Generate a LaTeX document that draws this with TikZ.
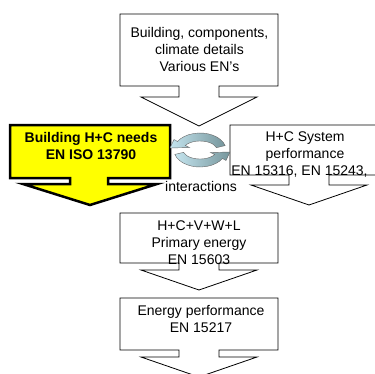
\documentclass[tikz,border=0pt]{standalone}
\usepackage{fontspec}
\setmainfont{Liberation Sans}
\usepackage{xcolor}
\usepackage{tikz}

\definecolor{needsyellow}{RGB}{255,255,0}
\definecolor{cyclelight}{RGB}{196,228,238}
\definecolor{cycledark}{RGB}{118,150,156}

\begin{document}
\begin{tikzpicture}[x=1pt, y=-1pt,
	callout/.style={draw=black, fill=white, line width=0.8},
	lbl/.style={inner sep=0, align=center, font=\fontsize{14}{17}\selectfont},
	cyclearrow/.style={draw=gray!80!black, line width=0.4, left color=cyclelight, right color=cycledark}]

\useasboundingbox (0,0) rectangle (375,373);
\clip (0,0) rectangle (375,373);

% top callout
\def \b {120}
\def \c {14}
\def \boxh {72}
\def \stemh {11}
\def \headh {29}
\draw[callout] (\b,\c)--(\b+158,\c)--(\b+158,\c+\boxh)--(\b+99,\c+\boxh)--(\b+99,\c+\boxh+\stemh)--(\b+137,\c+\boxh+\stemh)--(\b+79,\c+\boxh+\stemh+\headh)--(\b+21,\c+\boxh+\stemh)--(\b+59,\c+\boxh+\stemh)--(\b+59,\c+\boxh)--(\b,\c+\boxh)--cycle;

% system callout
\def \b {230}
\def \c {125}
\def \boxh {50}
\def \stemh {10}
\def \headh {20}
\draw[callout] (\b,\c)--(\b+158,\c)--(\b+158,\c+\boxh)--(\b+99,\c+\boxh)--(\b+99,\c+\boxh+\stemh)--(\b+137,\c+\boxh+\stemh)--(\b+79,\c+\boxh+\stemh+\headh)--(\b+21,\c+\boxh+\stemh)--(\b+59,\c+\boxh+\stemh)--(\b+59,\c+\boxh)--(\b,\c+\boxh)--cycle;

% primary energy callout
\def \b {120}
\def \c {213}
\def \boxh {50}
\def \stemh {7}
\def \headh {20}
\draw[callout] (\b,\c)--(\b+158,\c)--(\b+158,\c+\boxh)--(\b+99,\c+\boxh)--(\b+99,\c+\boxh+\stemh)--(\b+137,\c+\boxh+\stemh)--(\b+79,\c+\boxh+\stemh+\headh)--(\b+21,\c+\boxh+\stemh)--(\b+59,\c+\boxh+\stemh)--(\b+59,\c+\boxh)--(\b,\c+\boxh)--cycle;

% energy performance callout
\def \b {120}
\def \c {298}
\def \boxh {52}
\def \stemh {7}
\def \headh {20}
\draw[callout] (\b,\c)--(\b+158,\c)--(\b+158,\c+\boxh)--(\b+99,\c+\boxh)--(\b+99,\c+\boxh+\stemh)--(\b+137,\c+\boxh+\stemh)--(\b+79,\c+\boxh+\stemh+\headh)--(\b+21,\c+\boxh+\stemh)--(\b+59,\c+\boxh+\stemh)--(\b+59,\c+\boxh)--(\b,\c+\boxh)--cycle;

% needs callout (yellow)
\def \b {10}
\def \c {125}
\draw[fill=needsyellow, line width=2.5, line join=miter] (\b,\c)--(\b+160,\c)--(\b+160,\c+53)--(\b+98,\c+53)--(\b+98,\c+59)--(\b+147,\c+59)--(\b+80,\c+80)--(\b+13,\c+59)--(\b+60,\c+59)--(\b+60,\c+53)--(\b,\c+53)--cycle;

% interaction arrows
\begin{scope}[shift={(200,150)}, y=1pt]
\path[cyclearrow] (15:17pt and 9pt)--(15:26pt and 17pt) arc[start angle=15, end angle=150, x radius=26pt, y radius=17pt]--(150:30pt and 21pt)--(-30pt,2pt)--(150:12pt and 5pt)--(150:17pt and 9pt) arc[start angle=150, end angle=15, x radius=17pt, y radius=9pt]--cycle;
\path[cyclearrow, rotate=180] (15:17pt and 9pt)--(15:26pt and 17pt) arc[start angle=15, end angle=150, x radius=26pt, y radius=17pt]--(150:30pt and 21pt)--(-30pt,2pt)--(150:12pt and 5pt)--(150:17pt and 9pt) arc[start angle=150, end angle=15, x radius=17pt, y radius=9pt]--cycle;
\end{scope}

\node[lbl] (source) at (199.5,49) {Building, components,\\climate details\\Various EN's};
\node[lbl, font=\fontsize{14}{17}\selectfont\bfseries] (needs) at (91,146.5) {Building H+C needs\\EN ISO 13790};
\node[lbl] (system) at (305,155) {H+C System\\performance\\EN 15316, EN 15243,\hspace*{11pt}};
\node[lbl] (inter) at (201,186) {interactions};
\node[lbl] (primary) at (199,243) {H+C+V+W+L\\Primary energy\\EN 15603};
\node[lbl] (rating) at (201,319) {Energy performance\\EN 15217};

\end{tikzpicture}
\end{document}
